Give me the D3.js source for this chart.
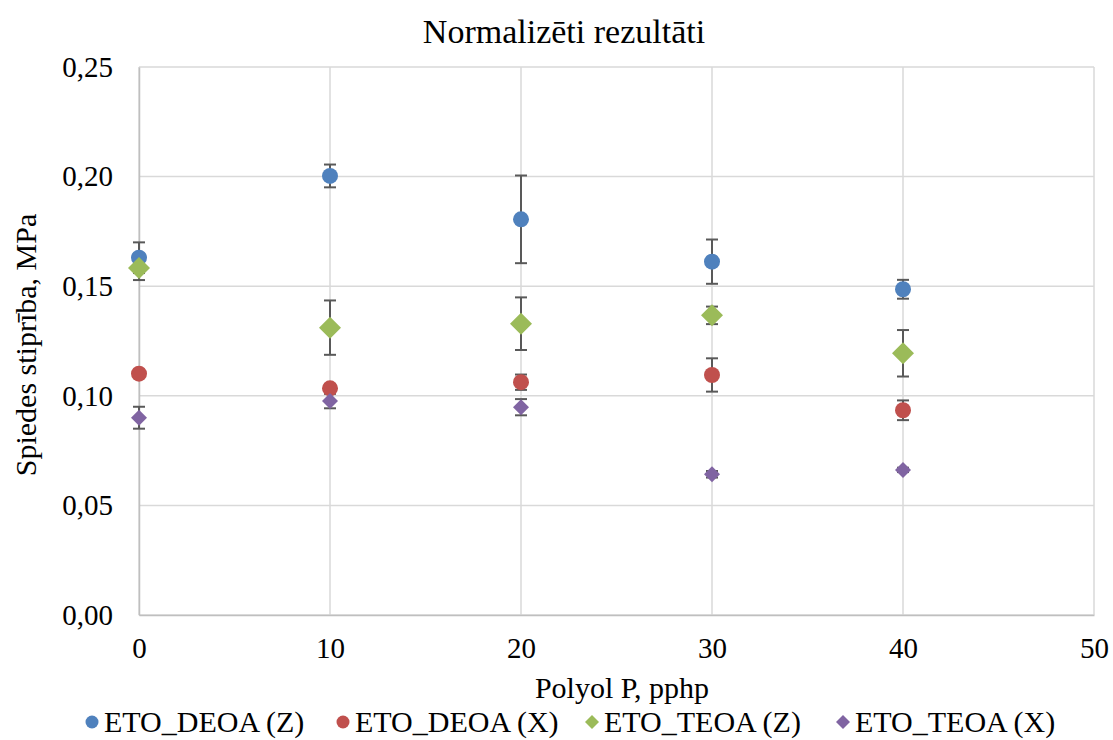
<!DOCTYPE html>
<html>
<head>
<meta charset="utf-8">
<script src="https://cdn.jsdelivr.net/npm/d3@7"></script>
<style>
  body { margin: 0; background: #fff; }
  text { font-family: "Liberation Serif", "Times New Roman", serif; fill: #000; }
</style>
</head>
<body>
<div id="chart"></div>
<script>
// Polyol content, pphp
const xValues = [0, 10, 20, 30, 40];

// Series values and error bars (MPa)
const deoaZ = [0.163, 0.2003, 0.1805, 0.1612, 0.1486];
const deoaZErr = [0.007, 0.0052, 0.020, 0.0101, 0.0043];
const deoaX = [0.1101, 0.1034, 0.1062, 0.1095, 0.0934];
const deoaXErr = [0.0010, 0.0020, 0.0035, 0.0076, 0.0045];
const teoaZ = [0.1583, 0.1311, 0.1329, 0.1367, 0.1194];
const teoaZErr = [0.0055, 0.0124, 0.0120, 0.0040, 0.0106];
const teoaX = [0.0900, 0.0976, 0.0948, 0.0642, 0.0662];
const teoaXErr = [0.0050, 0.0033, 0.0037, 0.0015, 0.0010];

const xTicks = [0, 10, 20, 30, 40, 50];
const yTicks = [0, 0.05, 0.10, 0.15, 0.20, 0.25];

const series = [
    { name: "ETO_DEOA (Z)", values: deoaZ, err: deoaZErr, color: "#4f81bd", shape: "circle", size: 8 },
    { name: "ETO_DEOA (X)", values: deoaX, err: deoaXErr, color: "#c0504d", shape: "circle", size: 8 },
    { name: "ETO_TEOA (Z)", values: teoaZ, err: teoaZErr, color: "#9bbb59", shape: "diamond", size: 11 },
    { name: "ETO_TEOA (X)", values: teoaX, err: teoaXErr, color: "#8064a2", shape: "diamond", size: 8 }
];

const W = 1113, H = 740;
const margin = { top: 67, right: 19, bottom: 125, left: 139 };
const width = W - margin.left - margin.right;
const height = H - margin.top - margin.bottom;

const svg = d3.select("#chart").append("svg")
    .attr("width", W)
    .attr("height", H);

const g = svg.append("g")
    .attr("transform", `translate(${margin.left},${margin.top})`);

const x = d3.scaleLinear().domain([0, 50]).range([0, width]);
const y = d3.scaleLinear().domain([0, 0.25]).range([height, 0]);

const fmt = v => d3.format(".2f")(v).replace(".", ",");

// Gridlines
g.selectAll(".hgrid").data(yTicks).enter().append("line")
    .attr("x1", 0).attr("x2", width)
    .attr("y1", d => y(d)).attr("y2", d => y(d))
    .attr("stroke", "#d9d9d9").attr("stroke-width", 1.5);

g.selectAll(".vgrid").data(xTicks).enter().append("line")
    .attr("y1", 0).attr("y2", height)
    .attr("x1", d => x(d)).attr("x2", d => x(d))
    .attr("stroke", "#d9d9d9").attr("stroke-width", 1.5);

// Axes
const xAxis = g.append("g")
    .attr("transform", `translate(0,${height})`)
    .call(d3.axisBottom(x).tickValues(xTicks).tickSize(0).tickPadding(22));
xAxis.select(".domain").attr("stroke", "#bfbfbf").attr("stroke-width", 1.5);
xAxis.selectAll("text").style("font-size", "29px").style("font-family", "Liberation Serif");

const yAxis = g.append("g")
    .call(d3.axisLeft(y).tickValues(yTicks).tickFormat(fmt).tickSize(0).tickPadding(26));
yAxis.select(".domain").attr("stroke", "#bfbfbf").attr("stroke-width", 1.5);
yAxis.selectAll("text").style("font-size", "29px").style("font-family", "Liberation Serif");

// Error bars
const capW = 6;
series.forEach(function (s) {
    const eg = g.append("g");
    s.values.forEach(function (v, i) {
        const cx = x(xValues[i]);
        const top = y(v + s.err[i]);
        const bot = y(v - s.err[i]);
        eg.append("line").attr("x1", cx).attr("x2", cx).attr("y1", top).attr("y2", bot)
            .attr("stroke", "#595959").attr("stroke-width", 2);
        eg.append("line").attr("x1", cx - capW).attr("x2", cx + capW).attr("y1", top).attr("y2", top)
            .attr("stroke", "#595959").attr("stroke-width", 2);
        eg.append("line").attr("x1", cx - capW).attr("x2", cx + capW).attr("y1", bot).attr("y2", bot)
            .attr("stroke", "#595959").attr("stroke-width", 2);
    });
});

// Markers
function drawMarker(sel, shape, size, color) {
    if (shape === "circle") {
        sel.append("circle").attr("r", size).attr("fill", color);
    } else {
        sel.append("path")
            .attr("d", `M0,${-size}L${size},0L0,${size}L${-size},0Z`)
            .attr("fill", color);
    }
}

series.forEach(function (s) {
    const mg = g.append("g");
    s.values.forEach(function (v, i) {
        const m = mg.append("g").attr("transform", `translate(${x(xValues[i])},${y(v)})`);
        drawMarker(m, s.shape, s.size, s.color);
    });
});

// Title
svg.append("text")
    .attr("x", 564).attr("y", 43)
    .attr("text-anchor", "middle")
    .style("font-size", "34px")
    .text("Normalizēti rezultāti");

// Axis titles
svg.append("text")
    .attr("x", 622).attr("y", 698)
    .attr("text-anchor", "middle")
    .style("font-size", "30px")
    .text("Polyol P, pphp");

svg.append("text")
    .attr("transform", `translate(36,345) rotate(-90)`)
    .attr("text-anchor", "middle")
    .style("font-size", "30px")
    .text("Spiedes stiprība, MPa");

// Legend
const legendX = [92, 343, 592, 843];
series.forEach(function (s, i) {
    const lg = svg.append("g").attr("transform", `translate(${legendX[i]},722)`);
    drawMarker(lg, s.shape, s.shape === "circle" ? 6.5 : 7, s.color);
    lg.append("text").attr("x", 12).attr("y", 10)
        .style("font-size", "30px")
        .text(s.name);
});
</script>
</body>
</html>
